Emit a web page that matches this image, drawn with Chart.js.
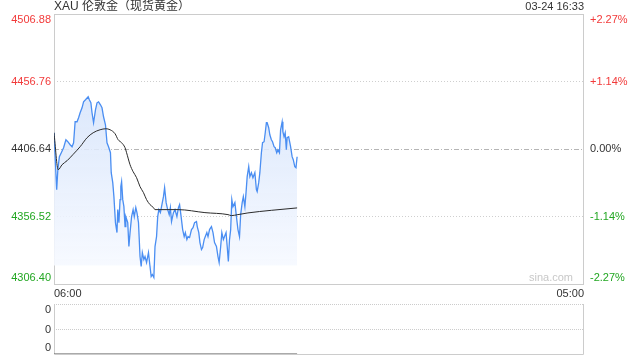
<!DOCTYPE html>
<html>
<head>
<meta charset="utf-8">
<script src="https://cdn.jsdelivr.net/npm/chart.js@4.4.0/dist/chart.umd.min.js"></script>
<style>
    html, body { margin: 0; padding: 0; background: #fff; }
    #wrap { position: relative; width: 640px; height: 360px; overflow: hidden; }
    #priceChart { position: absolute; left: 0; top: 0; }
    #volChart { position: absolute; left: 0; top: 300px; }
</style>
</head>
<body>
<div id="wrap">
    <canvas id="priceChart" width="640" height="300"></canvas>
    <canvas id="volChart" width="640" height="60"></canvas>
</div>
<script>
// minutes after 06:00, trading day runs 06:00 -> 05:00
const dayEnd = 1380;
const prevClose = 4406.64;
const titleText = 'XAU 伦敦金（现货黄金）';
const stampText = '03-24 16:33';
const yTicks = [4306.40, 4356.52, 4406.64, 4456.76, 4506.88];
const pctLabels = ['-2.27%', '-1.14%', '0.00%', '+1.14%', '+2.27%'];
const xLabels = ['06:00', '05:00'];
const volLabels = ['0', '0', '0'];

const times = [
    0, 7, 10, 14, 19, 25, 31, 36, 42, 47, 51, 55, 60, 64, 68, 73, 77, 82, 89, 92,
    96, 99, 103, 108, 112, 116, 121, 125, 129, 134, 138, 142, 147, 149, 153, 156, 158, 160, 164, 166,
    169, 172, 174, 176, 179, 182, 185, 187, 192, 195, 198, 202, 206, 209, 213, 216, 220, 224, 227, 230,
    234, 237, 241, 246, 250, 253, 256, 260, 263, 267, 270, 273, 277, 280, 285, 288, 292, 296, 300, 303,
    306, 311, 315, 320, 324, 327, 331, 335, 339, 342, 346, 349, 353, 358, 362, 366, 371, 373, 377, 380,
    384, 387, 391, 394, 398, 401, 405, 410, 414, 418, 423, 427, 430, 434, 437, 441, 444, 448, 451, 454,
    457, 460, 463, 466, 471, 475, 479, 483, 486, 490, 493, 497, 500, 503, 507, 510, 514, 518, 523, 527,
    529, 533, 536, 540, 543, 547, 550, 553, 555, 559, 562, 566, 569, 573, 576, 580, 583, 587, 590, 594,
    596, 599, 602, 605, 607, 611, 614, 616, 620, 623, 627, 630, 633
];
const prices = [
    4418.71, 4376.45, 4391.28, 4400.92, 4403.88, 4407.59, 4413.52, 4412.04, 4409.81, 4408.33,
    4411.29, 4426.86, 4426.86, 4429.83, 4433.53, 4437.24, 4441.69, 4443.17, 4445.39, 4443.17,
    4440.95, 4433.53, 4426.12, 4435.76, 4440.95, 4441.69, 4439.46, 4437.24, 4430.57, 4424.64,
    4411.29, 4408.33, 4403.88, 4389.05, 4381.64, 4371.26, 4361.63, 4351.99, 4344.58, 4361.63,
    4351.99, 4369.04, 4378.68, 4382.38, 4369.04, 4363.85, 4349.02, 4356.44, 4351.99, 4334.20,
    4344.58, 4356.44, 4361.63, 4356.44, 4363.11, 4359.40, 4351.99, 4326.79, 4319.37, 4329.75,
    4324.56, 4326.79, 4322.34, 4329.75, 4319.37, 4311.96, 4313.44, 4311.22, 4334.20, 4341.61,
    4356.44, 4361.63, 4359.40, 4363.85, 4371.26, 4377.94, 4366.82, 4361.63, 4357.92, 4363.11,
    4352.73, 4359.40, 4361.63, 4356.44, 4363.11, 4365.33, 4356.44, 4346.80, 4341.61, 4344.58,
    4339.39, 4341.61, 4340.87, 4346.80, 4348.28, 4351.99, 4352.73, 4349.02, 4344.58, 4337.16,
    4331.97, 4333.46, 4339.39, 4341.61, 4344.58, 4341.61, 4346.80, 4349.02, 4344.58, 4337.16,
    4334.20, 4326.79, 4322.34, 4334.20, 4344.58, 4339.39, 4341.61, 4344.58, 4334.20, 4323.08,
    4339.39, 4346.80, 4369.04, 4363.85, 4366.82, 4356.44, 4346.80, 4341.61, 4357.92, 4366.82,
    4371.26, 4363.85, 4374.23, 4386.09, 4393.50, 4386.09, 4389.05, 4385.35, 4389.05, 4376.45,
    4374.97, 4381.64, 4389.05, 4403.88, 4411.29, 4412.04, 4418.71, 4426.12, 4426.12, 4422.41,
    4417.22, 4413.52, 4412.04, 4408.33, 4407.59, 4403.88, 4406.10, 4403.88, 4420.93, 4426.86,
    4419.45, 4415.74, 4418.71, 4406.10, 4415.00, 4415.74, 4411.29, 4408.33, 4400.92, 4398.69,
    4393.50, 4392.76, 4400.92
];
const avgTimes = [
    0, 11, 21, 34, 49, 68, 86, 102, 120, 135, 146, 159, 167, 176, 185, 189, 198,
    206, 215, 224, 233, 241, 250, 259, 263, 323, 393, 453, 462, 479, 505, 566, 633
];
const avgPrices = [
    4418.71, 4391.28, 4394.99, 4397.95, 4402.40, 4408.33, 4415.00, 4418.71, 4420.93,
    4421.67, 4420.93, 4417.97, 4413.52, 4411.29, 4407.59, 4403.88, 4394.99, 4389.80,
    4385.35, 4378.68, 4374.23, 4369.04, 4365.33, 4363.11, 4361.63, 4361.63, 4359.40,
    4357.92, 4357.18, 4357.92, 4359.18, 4361.11, 4362.89
];
const volTimes = [0, 633];
const volValues = [0, 0];

const FONT = '"Liberation Sans", Arial, "Noto Sans CJK SC", sans-serif';
const UP = '#f23a3a';
const DOWN = '#22a722';
const FLAT = '#333';
const fillBase = 4320.1;

function levelColor(v) {
    if (v > prevClose + 0.001) return UP;
    if (v < prevClose - 0.001) return DOWN;
    return FLAT;
}

const priceFrame = {
    id: 'priceFrame',
    beforeDatasetsDraw(chart) {
        const { ctx, chartArea: a, scales } = chart;
        ctx.save();
        ctx.lineWidth = 1;
        yTicks.slice(1, -1).forEach(v => {
            const py = Math.round(scales.y.getPixelForValue(v)) + 0.5;
            ctx.strokeStyle = v === prevClose ? '#b5b5b5' : '#cfcfcf';
            ctx.setLineDash(v === prevClose ? [5, 2, 1, 2] : [1, 2]);
            ctx.beginPath();
            ctx.moveTo(a.left, py);
            ctx.lineTo(a.right, py);
            ctx.stroke();
        });
        ctx.setLineDash([]);
        ctx.strokeStyle = '#cccccc';
        ctx.strokeRect(a.left + 0.5, a.top + 0.5, a.right - a.left - 1, a.bottom - a.top);

        ctx.font = '11px ' + FONT;
        ctx.textBaseline = 'middle';
        yTicks.forEach((v, i) => {
            let py = scales.y.getPixelForValue(v);
            py = Math.min(Math.max(py, a.top + 6), a.bottom - 6);
            ctx.fillStyle = levelColor(v);
            ctx.textAlign = 'right';
            ctx.fillText(v.toFixed(2), a.left - 3, py);
            ctx.textAlign = 'left';
            ctx.fillText(pctLabels[i], a.right + 6, py);
        });

        ctx.fillStyle = '#c8c8c8';
        ctx.textAlign = 'right';
        ctx.fillText('sina.com', a.right - 11, a.bottom - 6);

        ctx.fillStyle = '#333';
        ctx.font = '12px ' + FONT;
        ctx.textAlign = 'left';
        ctx.fillText(titleText, a.left, 7);
        ctx.font = '11px ' + FONT;
        ctx.textAlign = 'right';
        ctx.fillText(stampText, a.right, 7);
        ctx.restore();
    }
};

const volFrame = {
    id: 'volFrame',
    beforeDatasetsDraw(chart) {
        const { ctx, chartArea: a } = chart;
        const mid = Math.round((a.top + a.bottom) / 2) + 0.5;
        ctx.save();
        ctx.lineWidth = 1;
        ctx.strokeStyle = '#cccccc';
        ctx.setLineDash([1, 1]);
        [a.top + 0.5, mid].forEach(py => {
            ctx.beginPath();
            ctx.moveTo(a.left, py);
            ctx.lineTo(a.right, py);
            ctx.stroke();
        });
        ctx.setLineDash([]);
        ctx.beginPath();
        ctx.moveTo(a.left + 0.5, a.top);
        ctx.lineTo(a.left + 0.5, a.bottom + 0.5);
        ctx.lineTo(a.right - 0.5, a.bottom + 0.5);
        ctx.lineTo(a.right - 0.5, a.top);
        ctx.stroke();

        ctx.font = '11px ' + FONT;
        ctx.fillStyle = '#333';
        ctx.textAlign = 'right';
        ctx.textBaseline = 'middle';
        const ys = [a.top + 6, mid, a.bottom - 6];
        volLabels.forEach((t, i) => ctx.fillText(t, a.left - 3, ys[i]));
        ctx.restore();
    }
};

new Chart(document.getElementById('priceChart'), {
    type: 'line',
    data: {
        datasets: [{
            label: 'avg',
            data: avgTimes.map((t, i) => ({ x: t, y: avgPrices[i] })),
            borderColor: '#2b2b2b',
            borderWidth: 1,
            pointRadius: 0,
            cubicInterpolationMode: 'monotone',
            fill: false,
            order: 0
        }, {
            label: 'price',
            data: times.map((t, i) => ({ x: t, y: prices[i] })),
            borderColor: '#4a8ef2',
            borderWidth: 1.3,
            pointRadius: 0,
            tension: 0,
            fill: { value: fillBase },
            backgroundColor: function(context) {
                const area = context.chart.chartArea;
                if (!area) return 'rgba(220,232,252,0.6)';
                const g = context.chart.ctx.createLinearGradient(0, area.top + 80, 0, area.top + 252);
                g.addColorStop(0, 'rgba(214,228,251,0.85)');
                g.addColorStop(1, 'rgba(246,249,255,0.9)');
                return g;
            },
            order: 1
        }]
    },
    options: {
        responsive: false,
        animation: false,
        devicePixelRatio: 1,
        layout: { padding: { top: 14, left: 54, right: 56, bottom: 0 } },
        plugins: { legend: { display: false }, tooltip: { enabled: false } },
        scales: {
            x: {
                type: 'linear',
                min: 0,
                max: dayEnd,
                afterBuildTicks: s => { s.ticks = [{ value: 0 }, { value: dayEnd }]; },
                afterFit: s => { s.height = 16; },
                ticks: {
                    autoSkip: false,
                    maxRotation: 0,
                    align: 'inner',
                    padding: 3,
                    color: '#333',
                    font: { family: FONT, size: 11 },
                    callback: (v, i) => xLabels[i]
                },
                grid: { display: false, drawTicks: false },
                border: { display: false }
            },
            y: {
                display: false,
                min: yTicks[0],
                max: yTicks[yTicks.length - 1]
            }
        }
    },
    plugins: [priceFrame]
});

new Chart(document.getElementById('volChart'), {
    type: 'line',
    data: {
        datasets: [{
            data: volTimes.map((t, i) => ({ x: t, y: volValues[i] })),
            borderColor: '#555',
            borderWidth: 1,
            pointRadius: 0,
            fill: false
        }]
    },
    options: {
        responsive: false,
        animation: false,
        devicePixelRatio: 1,
        layout: { padding: { top: 4, left: 54, right: 56, bottom: 6 } },
        plugins: { legend: { display: false }, tooltip: { enabled: false } },
        scales: {
            x: { type: 'linear', display: false, min: 0, max: dayEnd },
            y: { display: false, min: 0, max: 1 }
        }
    },
    plugins: [volFrame]
});
</script>
</body>
</html>
